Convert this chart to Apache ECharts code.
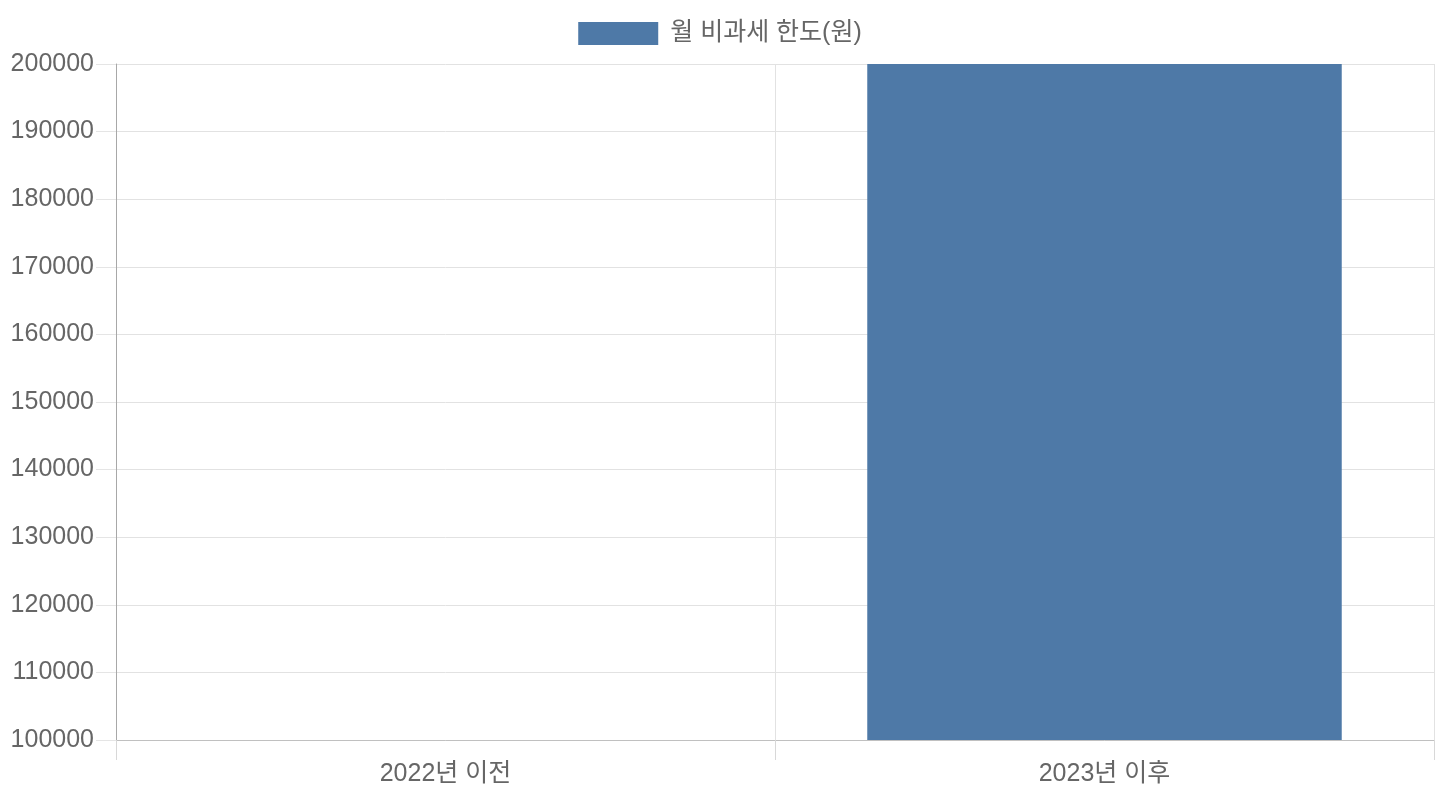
<!DOCTYPE html>
<html>
<head>
<meta charset="utf-8">
<script src="https://cdn.jsdelivr.net/npm/echarts@6/dist/echarts.min.js"></script>
<style>
  html, body { margin: 0; padding: 0; background: #fff; }
  #chart { width: 1440px; height: 800px; }
</style>
</head>
<body>
<div id="chart"></div>
<script>
const categories = ['2022년 이전', '2023년 이후'];
const limitValues = [100000, 200000];
const seriesName = '월 비과세 한도(원)';

const font = '"Liberation Sans", Arial, "Noto Sans CJK KR", sans-serif';

const chart = echarts.init(document.getElementById('chart'));
const option = {
    animation: false,
    textStyle: { fontFamily: font },
    legend: {
        data: [seriesName],
        top: 16,
        left: 'center',
        icon: 'rect',
        itemWidth: 80,
        itemHeight: 23,
        textStyle: { fontSize: 25, color: '#666', fontFamily: font, padding: [0, 0, 0, 7] }
    },
    grid: {
        left: 116,
        right: 6,
        top: 64,
        bottom: 60
    },
    xAxis: {
        type: 'category',
        data: categories,
        axisLine: { lineStyle: { color: '#c0c0c0', width: 1 } },
        axisTick: { show: true, length: 20, lineStyle: { color: '#d8d8d8' } },
        axisLabel: { fontSize: 25, color: '#666', margin: 22, fontFamily: font },
        splitLine: { show: true, lineStyle: { color: '#e2e2e2' } }
    },
    yAxis: {
        type: 'value',
        min: 100000,
        max: 200000,
        interval: 10000,
        axisLine: { show: true, lineStyle: { color: '#a8a8a8' } },
        axisTick: { show: true, length: 20, lineStyle: { color: '#e5e5e5' } },
        axisLabel: {
            fontSize: 25, color: '#666', margin: 22, fontFamily: font,
            formatter: v => String(v)
        },
        splitLine: { lineStyle: { color: '#e2e2e2' } }
    },
    series: [
        {
            name: seriesName,
            type: 'bar',
            barWidth: '72%',
            itemStyle: { color: '#4e79a7' },
            data: limitValues
        }
    ]
};
chart.setOption(option);
</script>
</body>
</html>
